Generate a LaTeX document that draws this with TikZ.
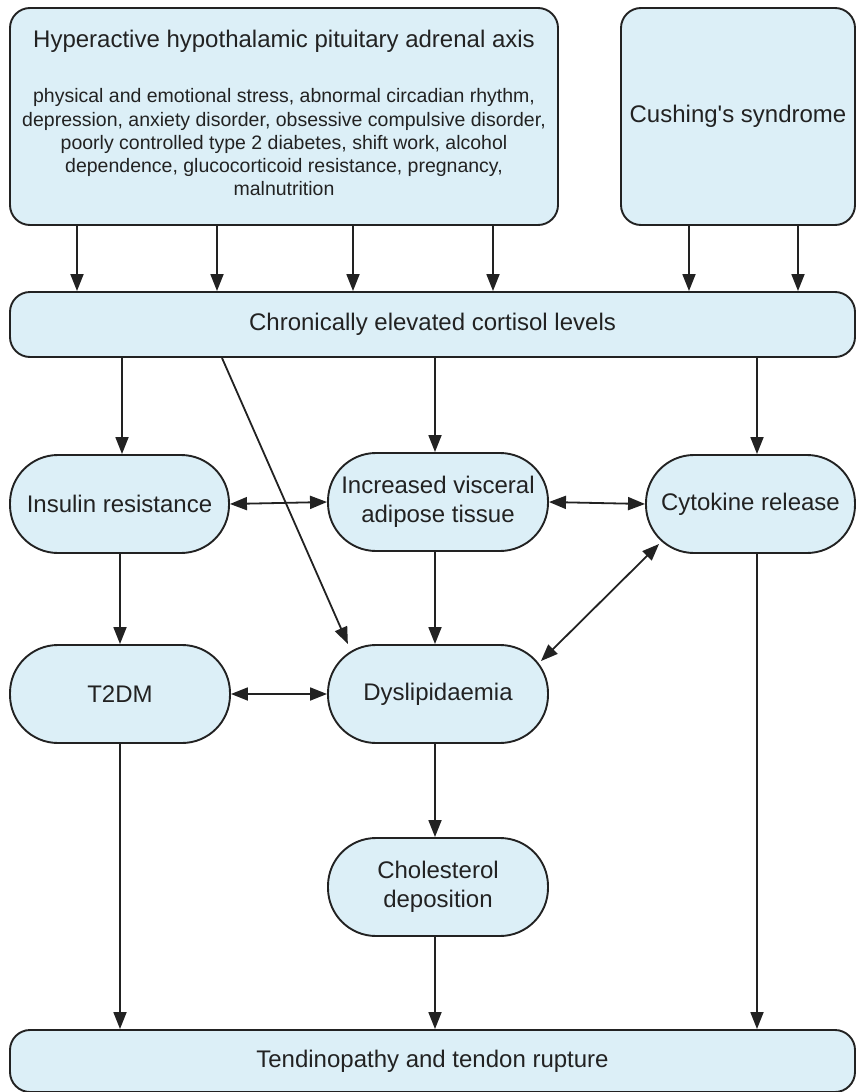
\documentclass[tikz,border=0pt]{standalone}
\usepackage{fontspec}
\setmainfont{Liberation Sans}[Ligatures=TeXOff]
\usetikzlibrary{arrows.meta}
\definecolor{boxblue}{HTML}{DCEFF7}
\definecolor{linegray}{HTML}{222222}

\begin{document}
\begin{tikzpicture}[x=1pt, y=-1pt,
        box/.style={draw=linegray, fill=boxblue, line width=1.9pt, rounded corners=20pt,
            align=center, text=linegray, inner sep=0pt, font=\fontsize{24}{29}\selectfont},
        pill/.style={box, rounded corners=48pt, minimum width=220pt, minimum height=98pt},
        arr/.style={-{Triangle[length=17pt,width=13pt]}, line width=1.8pt, draw=linegray},
        dbl/.style={{Triangle[length=17pt,width=13pt]}-{Triangle[length=17pt,width=13pt]}, line width=1.8pt, draw=linegray}]
    \useasboundingbox (0,0) rectangle (856,1092);

    % Causes
    \node[box, minimum width=548pt, minimum height=217pt, font=\fontsize{19.5}{23.2}\selectfont] (hpa) at (284,116.5)
        {{\fontsize{24}{29}\selectfont Hyperactive hypothalamic pituitary adrenal axis}\\[32pt]
         physical and emotional stress, abnormal circadian rhythm,\\
         depression, anxiety disorder, obsessive compulsive disorder,\\
         poorly controlled type 2 diabetes, shift work, alcohol\\
         dependence, glucocorticoid resistance, pregnancy,\\
         malnutrition\rule[-7pt]{0pt}{1pt}};
    \node[box, minimum width=234pt, minimum height=217pt] (cush) at (738,116.5) {Cushing's syndrome};

    % Cortisol
    \node[box, minimum width=845pt, minimum height=65pt] (cort) at (432.5,324.5) {Chronically elevated cortisol levels};

    % Effects
    \node[pill, minimum width=219pt] (ins) at (119.5,504) {Insulin resistance};
    \node[pill] (vis) at (438,502) {Increased visceral\\adipose tissue};
    \node[pill, minimum width=209pt] (cyt) at (750.5,504) {Cytokine release};
    \node[pill] (t2dm) at (120,694) {T2DM};
    \node[pill] (dys) at (438,694) {Dyslipidaemia};
    \node[pill] (chol) at (438,887) {Cholesterol\\deposition};

    % Outcome
    \node[box, minimum width=845pt, minimum height=62pt] (tend) at (432.5,1061) {Tendinopathy and tendon rupture};

    % Arrows into cortisol
    \foreach \x in {77,217,353,493}
        \draw[arr] (hpa.south -| \x,0) -- (cort.north -| \x,0);
    \foreach \x in {689,798}
        \draw[arr] (cush.south -| \x,0) -- (cort.north -| \x,0);

    % Arrows out of cortisol
    \draw[arr] (cort.south -| 122,0) -- (ins.north -| 122,0);
    \draw[arr] (cort.south -| 435,0) -- (vis.north -| 435,0);
    \draw[arr] (cort.south -| 757,0) -- (cyt.north -| 757,0);
    \draw[arr] (cort.south -| 222,0) -- (dys.151);

    % Links between effects
    \draw[dbl] (ins.east) -- (vis.west);
    \draw[dbl] (vis.east) -- (cyt.west);
    \draw[dbl] (t2dm.east) -- (dys.west);
    \draw[dbl] ([xshift=14pt,yshift=10pt]cyt.south west) -- ([xshift=-8pt,yshift=-17pt]dys.north east);
    \draw[arr] (ins.south -| 120,0) -- (t2dm.north -| 120,0);
    \draw[arr] (vis.south -| 435,0) -- (dys.north -| 435,0);
    \draw[arr] (dys.south -| 435,0) -- (chol.north -| 435,0);

    % Into tendon
    \draw[arr] (t2dm.south -| 120,0) -- (tend.north -| 120,0);
    \draw[arr] (chol.south -| 435,0) -- (tend.north -| 435,0);
    \draw[arr] (cyt.south -| 757,0) -- (tend.north -| 757,0);
\end{tikzpicture}
\end{document}
